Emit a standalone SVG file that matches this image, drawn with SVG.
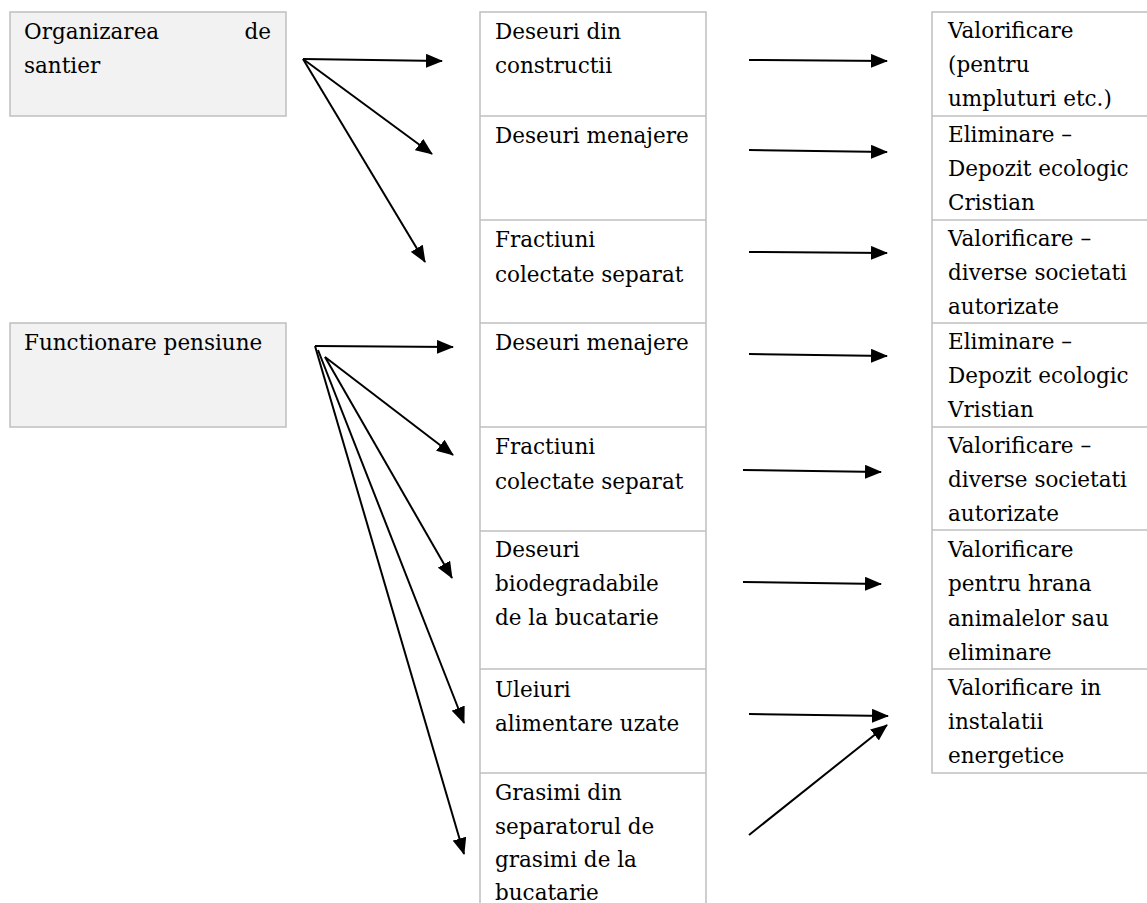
<svg xmlns="http://www.w3.org/2000/svg" width="1147" height="903" viewBox="0 0 1147 903">
<defs>
<style>
.src{fill:#f2f2f2;stroke:#bfbfbf;stroke-width:1.5}
.cell{fill:#ffffff;stroke:#bfbfbf;stroke-width:1.5}
.div{stroke:#bfbfbf;stroke-width:1.5}
.t{font-family:"DejaVu Serif","Liberation Serif",serif;font-size:21.5px;fill:#000}
.c{stroke:#000;stroke-width:2;fill:none;marker-end:url(#ah)}
</style>
<marker id="ah" markerWidth="17" markerHeight="14" refX="16" refY="7" orient="auto" markerUnits="userSpaceOnUse">
<path d="M0,0 L17,7 L0,14 Z" fill="#000"/>
</marker>
</defs>
<rect width="1147" height="903" fill="#fff"/>

<g id="src-organizarea">
<rect class="src" x="10" y="12" width="276" height="104"/>
<text class="t" x="24" y="39">Organizarea</text>
<text class="t" x="271" y="39" text-anchor="end">de</text>
<text class="t" x="24" y="73">santier</text>
</g>
<g id="src-functionare">
<rect class="src" x="10" y="323" width="276" height="104"/>
<text class="t" x="24" y="350">Functionare pensiune</text>
</g>

<g id="mid-column">
<rect class="cell" x="480" y="12" width="226" height="900"/>
<g id="m1"><line class="div" x1="480" y1="116" x2="706" y2="116"/>
<text class="t" x="495" y="39">Deseuri din</text><text class="t" x="495" y="73">constructii</text></g>
<g id="m2"><line class="div" x1="480" y1="220" x2="706" y2="220"/>
<text class="t" x="495" y="143">Deseuri menajere</text></g>
<g id="m3"><line class="div" x1="480" y1="323" x2="706" y2="323"/>
<text class="t" x="495" y="247">Fractiuni</text><text class="t" x="495" y="282">colectate separat</text></g>
<g id="m4"><line class="div" x1="480" y1="427" x2="706" y2="427"/>
<text class="t" x="495" y="350">Deseuri menajere</text></g>
<g id="m5"><line class="div" x1="480" y1="531" x2="706" y2="531"/>
<text class="t" x="495" y="454">Fractiuni</text><text class="t" x="495" y="489">colectate separat</text></g>
<g id="m6"><line class="div" x1="480" y1="669" x2="706" y2="669"/>
<text class="t" x="495" y="557">Deseuri</text><text class="t" x="495" y="591">biodegradabile</text><text class="t" x="495" y="625">de la bucatarie</text></g>
<g id="m7"><line class="div" x1="480" y1="773" x2="706" y2="773"/>
<text class="t" x="495" y="697">Uleiuri</text><text class="t" x="495" y="731">alimentare uzate</text></g>
<g id="m8">
<text class="t" x="495" y="800">Grasimi din</text><text class="t" x="495" y="834">separatorul de</text><text class="t" x="495" y="867">grasimi de la</text><text class="t" x="495" y="900">bucatarie</text></g>
</g>

<g id="right-column">
<rect class="cell" x="932" y="12" width="230" height="761"/>
<g id="r1"><line class="div" x1="932" y1="116" x2="1147" y2="116"/>
<text class="t" x="948" y="38">Valorificare</text><text class="t" x="948" y="72">(pentru</text><text class="t" x="948" y="106">umpluturi etc.)</text></g>
<g id="r2"><line class="div" x1="932" y1="220" x2="1147" y2="220"/>
<text class="t" x="948" y="142">Eliminare –</text><text class="t" x="948" y="176">Depozit ecologic</text><text class="t" x="948" y="210">Cristian</text></g>
<g id="r3"><line class="div" x1="932" y1="323" x2="1147" y2="323"/>
<text class="t" x="948" y="246">Valorificare –</text><text class="t" x="948" y="280">diverse societati</text><text class="t" x="948" y="314">autorizate</text></g>
<g id="r4"><line class="div" x1="932" y1="427" x2="1147" y2="427"/>
<text class="t" x="948" y="349">Eliminare –</text><text class="t" x="948" y="383">Depozit ecologic</text><text class="t" x="948" y="417">Vristian</text></g>
<g id="r5"><line class="div" x1="932" y1="530" x2="1147" y2="530"/>
<text class="t" x="948" y="453">Valorificare –</text><text class="t" x="948" y="487">diverse societati</text><text class="t" x="948" y="521">autorizate</text></g>
<g id="r6"><line class="div" x1="932" y1="669" x2="1147" y2="669"/>
<text class="t" x="948" y="557">Valorificare</text><text class="t" x="948" y="591">pentru hrana</text><text class="t" x="948" y="626">animalelor sau</text><text class="t" x="948" y="660">eliminare</text></g>
<g id="r7">
<text class="t" x="948" y="695">Valorificare in</text><text class="t" x="948" y="729">instalatii</text><text class="t" x="948" y="763">energetice</text></g>
</g>

<g id="connectors">
<line class="c" x1="303" y1="59" x2="442" y2="61"/>
<line class="c" x1="303" y1="59" x2="432" y2="154"/>
<line class="c" x1="303" y1="59" x2="425" y2="262"/>
<line class="c" x1="315" y1="346" x2="453" y2="347"/>
<line class="c" x1="325" y1="357" x2="453" y2="455"/>
<line class="c" x1="325" y1="357" x2="452" y2="578"/>
<line class="c" x1="318" y1="350" x2="464" y2="723"/>
<line class="c" x1="315" y1="346" x2="464" y2="854"/>
<line class="c" x1="749" y1="60" x2="887" y2="61"/>
<line class="c" x1="749" y1="150" x2="887" y2="152"/>
<line class="c" x1="749" y1="252" x2="887" y2="253"/>
<line class="c" x1="749" y1="354" x2="887" y2="356"/>
<line class="c" x1="743" y1="470" x2="881" y2="472"/>
<line class="c" x1="743" y1="582" x2="881" y2="584"/>
<line class="c" x1="749" y1="714" x2="888" y2="716"/>
<line class="c" x1="749" y1="835" x2="887" y2="725"/>
</g>
</svg>
